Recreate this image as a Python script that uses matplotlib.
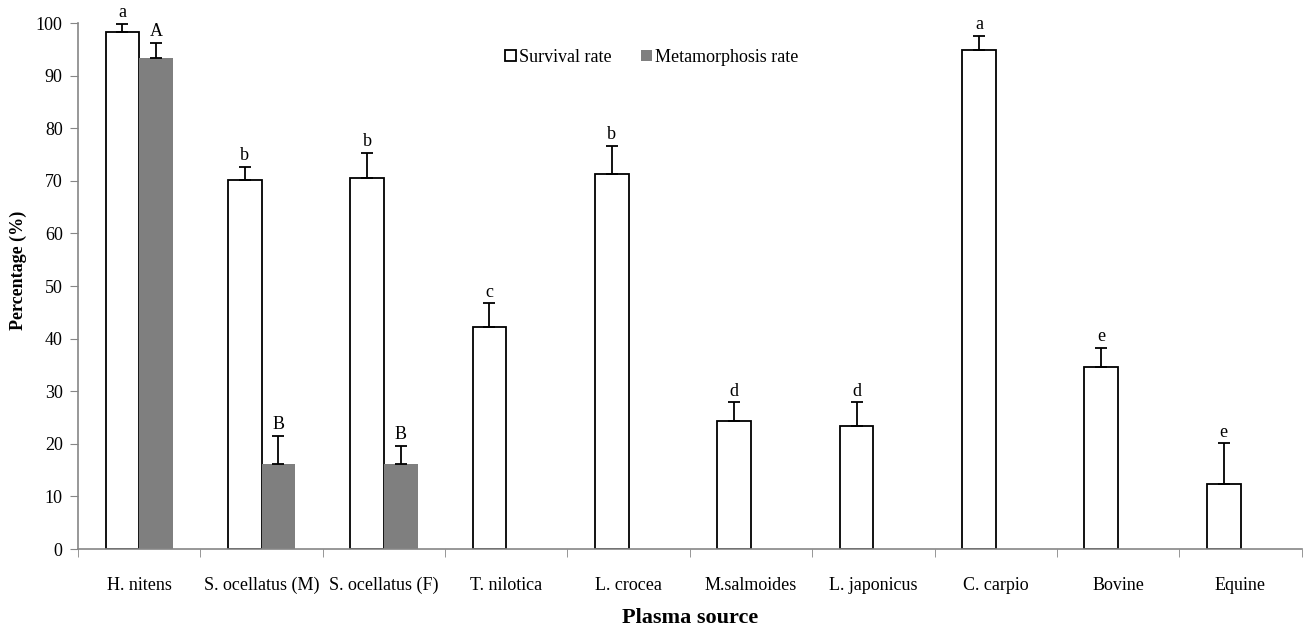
import numpy as np
import matplotlib.pyplot as plt

plt.rcParams['font.family'] = ['Liberation Serif', 'DejaVu Serif']

sources = ["H. nitens", "S. ocellatus (M)", "S. ocellatus (F)", "T. nilotica", "L. crocea",
           "M.salmoides", "L. japonicus", "C. carpio", "Bovine", "Equine"]
survival = [98.3, 70.2, 70.5, 42.3, 71.3, 24.4, 23.3, 94.9, 34.6, 12.3]
survival_err = [1.5, 2.4, 4.8, 4.4, 5.4, 3.5, 4.6, 2.7, 3.7, 7.8]
survival_letters = ["a", "b", "b", "c", "b", "d", "d", "a", "e", "e"]
metamorph = [93.3, 16.2, 16.2, np.nan, np.nan, np.nan, np.nan, np.nan, np.nan, np.nan]
metamorph_err = [2.9, 5.3, 3.4, np.nan, np.nan, np.nan, np.nan, np.nan, np.nan, np.nan]
metamorph_letters = ["A", "B", "B", "", "", "", "", "", "", ""]

fig = plt.figure(figsize=(13.06, 6.26), dpi=100)
ax = fig.add_axes([0.0597, 0.123, 0.937, 0.840])

x = np.arange(len(sources))
w = 0.275
axis_gray = "#868686"

ax.bar(x - w / 2, survival, w, color="white", edgecolor="black", linewidth=1.3,
       label="Survival rate", zorder=2)
ax.bar(x + w / 2, metamorph, w, color="#7f7f7f", edgecolor="none",
       label="Metamorphosis rate", zorder=2)

ax.errorbar(x - w / 2, survival, yerr=[np.zeros(len(x)), survival_err], fmt="none",
            ecolor="black", elinewidth=1.3, capsize=4, capthick=1.3, zorder=3)
ax.errorbar(x + w / 2, metamorph, yerr=[np.zeros(len(x)), metamorph_err], fmt="none",
            ecolor="black", elinewidth=1.3, capsize=4, capthick=1.3, zorder=3)

for xi, v, e, t in zip(x - w / 2, survival, survival_err, survival_letters):
    ax.annotate(t, (xi, v + e), xytext=(0, 2), textcoords="offset points",
                ha="center", va="bottom", fontsize=13, annotation_clip=False)
for xi, v, e, t in zip(x + w / 2, metamorph, metamorph_err, metamorph_letters):
    if t:
        ax.annotate(t, (xi, v + e), xytext=(0, 2), textcoords="offset points",
                    ha="center", va="bottom", fontsize=13, annotation_clip=False)

ax.set_xlim(-0.5, len(sources) - 0.5)
ax.set_ylim(0, 100)
ax.set_yticks(np.arange(0, 101, 10))
ax.set_xticks(x)
ax.set_xticklabels(sources, fontsize=13)
ax.set_xticks(np.arange(-0.5, len(sources), 1), minor=True)
ax.tick_params(axis="x", which="major", length=0, pad=20)
ax.tick_params(axis="x", which="minor", length=6, color=axis_gray, direction="out")
ax.tick_params(axis="y", labelsize=13, length=6, color=axis_gray, pad=5)

for s in ["top", "right"]:
    ax.spines[s].set_visible(False)
for s in ["left", "bottom"]:
    ax.spines[s].set_color(axis_gray)
    ax.spines[s].set_linewidth(1.2)

ax.set_ylabel("Percentage (%)", fontsize=13, fontweight="bold", va="center")
ax.yaxis.set_label_coords(-0.049, 0.53)
ax.set_xlabel("Plasma source", fontsize=16, fontweight="bold", labelpad=10)

ax.legend(loc="center", bbox_to_anchor=(0.469, 0.935), ncol=2, frameon=False,
          fontsize=13, handlelength=0.6, handleheight=0.6, handletextpad=0.2,
          columnspacing=1.6)

fig.savefig("out.png", dpi=100)
